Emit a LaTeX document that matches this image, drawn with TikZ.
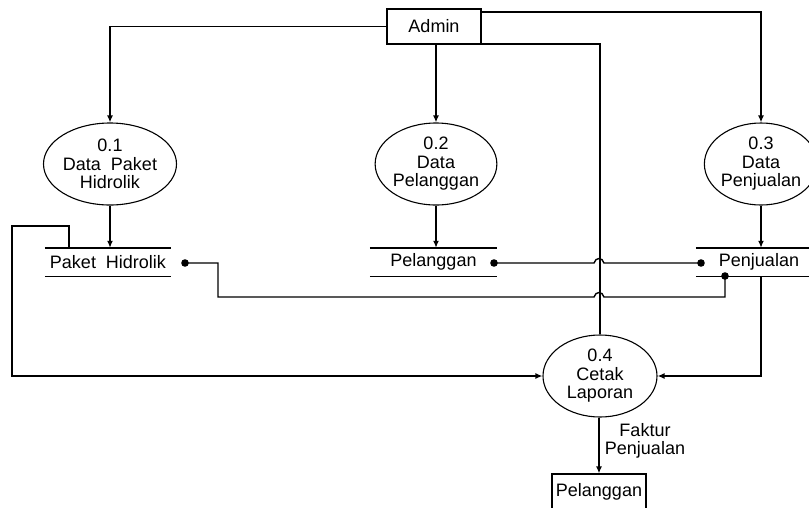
\documentclass[tikz,border=0pt]{standalone}
\usepackage{fontspec}
\setmainfont{Liberation Sans}
\usetikzlibrary{shapes.geometric,arrows.meta}
\begin{document}
\begin{tikzpicture}[x=1pt,y=-1pt,
  every node/.style={font=\fontsize{18}{18.5}\selectfont, inner sep=0pt, align=center},
  line/.style={line width=1.4pt},
  arr/.style={line width=1.4pt,-{Latex[length=7pt,width=6pt]}},
  proc/.style={ellipse, draw, line width=1.1pt, minimum width=114pt, minimum height=82pt},
  ent/.style={rectangle, draw, line width=1.2pt, minimum width=94pt, minimum height=35pt},
  store/.style={rectangle, minimum width=126pt, minimum height=28pt}]
\useasboundingbox (0,0) rectangle (809,507);
% nodes
\node[ent] (admin) at (434,26.5) {Admin};
\node[proc] (p1) at (110,164) {0.1\\Data\ \ Paket\\Hidrolik};
\node[proc] (p2) at (436,164) {0.2\\Data\\Pelanggan};
\node[proc,minimum width=112pt] (p3) at (761,164) {0.3\\Data\\Penjualan};
\node[proc] (p4) at (600,376) {0.4\\Cetak\\Laporan};
\node[store] (s1) at (108,262) {Paket\ \ Hidrolik};
\node[store,minimum width=127pt] (s2) at (433.5,262) {Pelanggan};
\node[store] (s3) at (759,262) {Penjualan};
\node[ent] (ext) at (599,491.5) {Pelanggan};
\node (lbl) at (645,441) {Faktur\\Penjualan};
% store lines
\foreach \s in {s1,s2,s3}{
  \draw[line] (\s.north west) -- (\s.north east);
  \draw[line] (\s.south west) -- (\s.south east);
}
% admin flows
\draw[arr] (admin.west) -| (p1.north);
\draw[arr] (admin.south -| p2.north) -- (p2.north);
\draw[arr] ([yshift=14.5pt]admin.east) -| (p3.north);
\draw[line] ([yshift=0.6pt]admin.south east) -| (p4.north);
% process to store
\draw[arr] (p1.south) -- (s1.north -| p1.south);
\draw[arr] (p2.south) -- (s2.north -| p2.south);
\draw[arr] (p3.south) -- (s3.north -| p3.south);
% loop from Paket Hidrolik to 0.4
\coordinate (l1) at (69,248);
\draw[arr] (l1) -- (69,226) -- (12,226) -- (12,376) -- (p4.west);
% Paket Hidrolik <-> Penjualan
\coordinate (d1) at (185,263);
\coordinate (d2) at (725,276);
\fill (d1) circle (3.8);
\fill (d2) circle (3.8);
\draw[line] (d1) -- (218,263) -- (218,297) -- (594,297)
  .. controls (595.5,291) and (602.5,291) .. (604,297) -- (725,297) -- (d2);
% Pelanggan <-> Penjualan
\coordinate (d3) at (494,263);
\coordinate (d4) at (701,263);
\fill (d3) circle (3.8);
\fill (d4) circle (3.8);
\draw[line] (d3) -- (594,263)
  .. controls (595.5,257) and (602.5,257) .. (604,263) -- (d4);
% Penjualan to 0.4
\draw[arr] (s3.south -| 761,0) -- (761,376) -- (p4.east);
% 0.4 to Pelanggan
\draw[arr] (p4.south -| ext.north) -- (ext.north);
\end{tikzpicture}
\end{document}
